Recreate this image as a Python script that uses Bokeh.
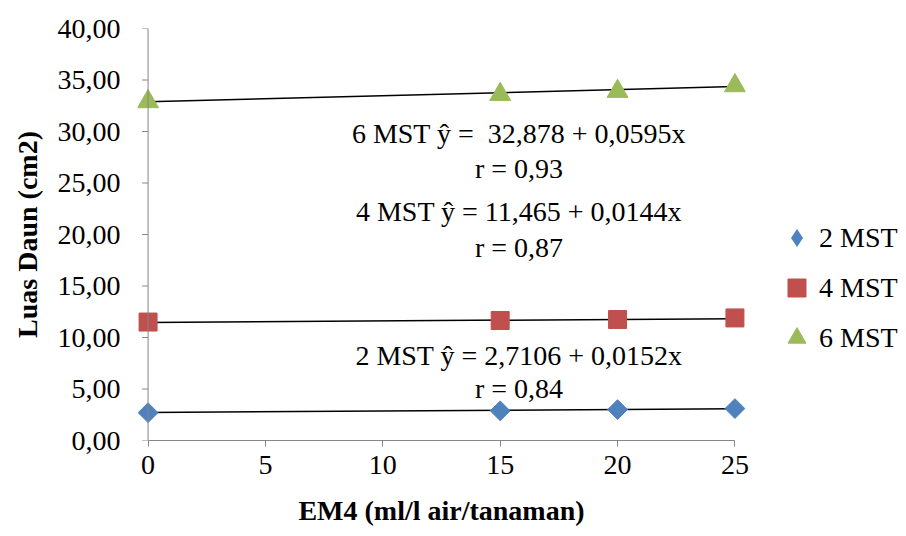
import math
from bokeh.plotting import figure
from bokeh.models import (Range1d, FixedTicker, ColumnDataSource, Span,
                          Legend, LegendItem)
from bokeh.core.properties import value
from bokeh.embed import file_html
from bokeh.resources import INLINE

# ---- data ----
x_em4 = [0, 15, 20, 25]
mst2 = [2.70, 2.88, 3.00, 3.10]
mst4 = [11.50, 11.65, 11.75, 11.90]
mst6 = [32.90, 33.60, 33.90, 34.45]
series_names = ["2 MST", "4 MST", "6 MST"]
intercepts = [2.7106, 11.465, 32.878]
slopes = [0.0152, 0.0144, 0.0595]
y_ticks = [0, 5, 10, 15, 20, 25, 30, 35, 40]
x_ticks = [0, 5, 10, 15, 20, 25]
eq_texts = ["6 MST \u0177 =\u00a0 32,878 + 0,0595x", "r = 0,93",
            "4 MST \u0177 = 11,465 + 0,0144x", "r = 0,87",
            "2 MST \u0177 = 2,7106 + 0,0152x", "r = 0,84"]
eq_x = [15.8, 15.8, 15.8, 15.8, 15.8, 15.8]
eq_y = [29.8, 26.4, 22.2, 18.7, 8.25, 5.05]

FONT = "Liberation Serif"
FS = "28px"
colors = ["#4F81BD", "#C0504D", "#9BBB59"]
markers = ["square", "square", "triangle"]
legend_markers = ["diamond", "square", "triangle"]
angles = [math.pi / 4, 0, 0]
sizes = [14, 18, 21]

FRAME_W = 608
X0, X1 = -0.45, 25.45

p = figure(output_backend="svg", toolbar_location=None,
           frame_width=FRAME_W, frame_height=412,
           min_border_left=137, min_border_right=161,
           min_border_top=28, min_border_bottom=96,
           x_range=Range1d(X0, X1), y_range=Range1d(0, 40),
           background_fill_color="white", border_fill_color="white")
p.outline_line_color = None
p.xgrid.visible = False
p.ygrid.visible = False

axis_color = "#868686"

# y axis line and outward ticks at x = 0
p.add_layout(Span(location=0, dimension="height", line_color=axis_color,
                  line_width=1))
tick_len = 6 * (X1 - X0) / FRAME_W
p.segment(x0=[0] * len(y_ticks), x1=[-tick_len] * len(y_ticks),
          y0=y_ticks, y1=y_ticks, line_color=axis_color, line_width=1)

# trend lines
for a, b in zip(intercepts, slopes):
    xs = [x_ticks[0], x_ticks[-1]]
    ys = [a + b * xv for xv in xs]
    p.line(xs, ys, line_color="black", line_width=1.5)

items = []
for vals, name, c, m, lm, s, ang in zip([mst2, mst4, mst6], series_names,
                                        colors, markers, legend_markers,
                                        sizes, angles):
    r = p.scatter(x_em4, vals, marker=m, size=s, angle=ang,
                  fill_color=c, line_color=c)
    if lm != m:
        # legend-only glyph (zero size in the plot)
        r = p.scatter(x_em4, vals, marker=lm, size=0, line_width=0,
                      fill_color=c, line_color=c)
    items.append(LegendItem(label=name, renderers=[r]))

src = ColumnDataSource(dict(x=eq_x, y=eq_y, t=eq_texts))
p.text(x="x", y="y", text="t", source=src, text_font=value(FONT),
       text_font_size=FS, text_align="center", text_baseline="middle",
       text_color="black")

# x axis
xa = p.xaxis[0]
xa.ticker = FixedTicker(ticks=x_ticks)
xa.bounds = (0, 25)
xa.axis_line_color = axis_color
xa.major_tick_line_color = axis_color
xa.minor_tick_line_color = None
xa.major_tick_in = 0
xa.major_tick_out = 6
xa.major_label_text_font = FONT
xa.major_label_text_font_size = FS
xa.major_label_text_color = "black"
xa.major_label_standoff = 9
xa.axis_label = "EM4 (ml/l air/tanaman)"
xa.axis_label_text_font = FONT
xa.axis_label_text_font_style = "bold"
xa.axis_label_text_font_size = "28px"
xa.axis_label_text_color = "black"
xa.axis_label_standoff = 18

# y axis: labels and title only
ya = p.yaxis[0]
ya.ticker = FixedTicker(ticks=y_ticks)
ya.major_label_overrides = {t: f"{t:.2f}".replace(".", ",") for t in y_ticks}
ya.axis_line_color = None
ya.major_tick_line_color = None
ya.minor_tick_line_color = None
ya.major_tick_in = 0
ya.major_tick_out = 0
ya.major_label_text_font = FONT
ya.major_label_text_font_size = FS
ya.major_label_text_color = "black"
ya.major_label_standoff = 17
ya.axis_label = "Luas Daun (cm2)"
ya.axis_label_text_font = FONT
ya.axis_label_text_font_style = "bold"
ya.axis_label_text_font_size = "28px"
ya.axis_label_text_color = "black"
ya.axis_label_standoff = 12

lg = Legend(items=items, location=(29, 80), border_line_color=None,
            background_fill_alpha=0, padding=0, margin=0, spacing=5,
            glyph_height=45, glyph_width=45, label_height=24,
            label_standoff=0, label_text_font=FONT, label_text_font_size=FS,
            label_text_baseline="middle", label_text_color="black")
p.add_layout(lg, "right")

open("out.html", "w").write(file_html(p, INLINE))
